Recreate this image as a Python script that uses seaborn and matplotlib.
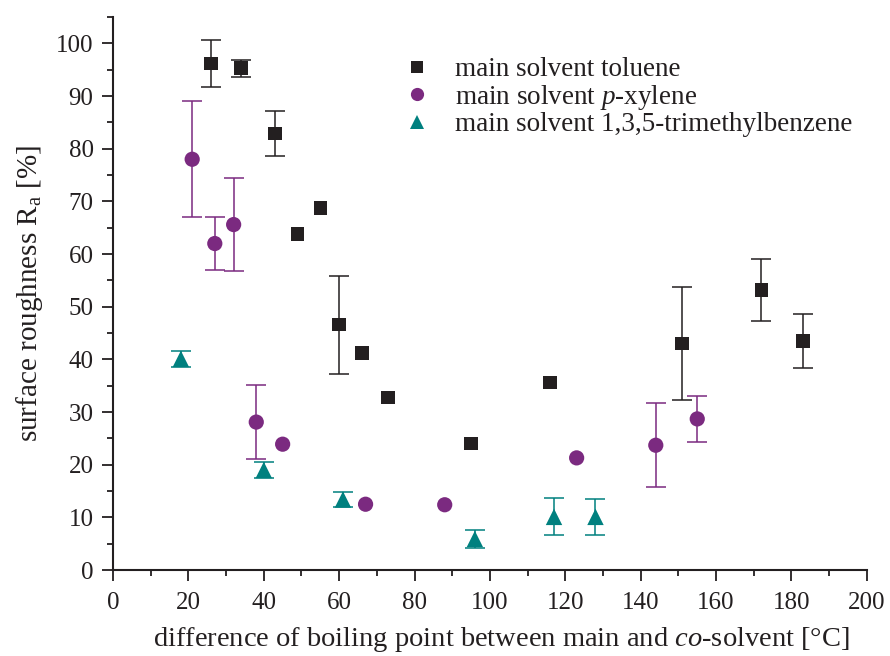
import numpy as np
import pandas as pd
import matplotlib
matplotlib.use("Agg")
import matplotlib.pyplot as plt
from matplotlib.lines import Line2D
from matplotlib.ticker import MultipleLocator
import seaborn as sns

# Surface roughness vs. boiling point difference, per main solvent
tol_x = [26, 34, 43, 49, 55, 60, 66, 73, 95, 116, 151, 172, 183]
tol_y = [96.2, 95.3, 82.9, 63.8, 68.7, 46.6, 41.2, 32.8, 24.0, 35.6, 43.0, 53.2, 43.5]
tol_err = [4.4, 1.6, 4.2, 0, 0, 9.3, 0, 0, 0, 0, 10.8, 5.9, 5.1]

xyl_x = [21, 27, 32, 38, 45, 67, 88, 123, 144, 155]
xyl_y = [78.0, 62.0, 65.6, 28.1, 23.9, 12.5, 12.4, 21.3, 23.7, 28.7]
xyl_err = [11.0, 5.0, 8.9, 7.1, 0, 0, 0, 0, 8.0, 4.4]

tmb_x = [18, 40, 61, 96, 117, 128]
tmb_y = [40.1, 19.0, 13.4, 5.9, 10.1, 10.1]
tmb_err = [1.5, 1.5, 1.5, 1.7, 3.5, 3.4]

labels = ["main solvent toluene",
          "main solvent $\\mathit{p}$-xylene",
          "main solvent 1,3,5-trimethylbenzene"]
colors = ["#231f20", "#7b2a80", "#00807f"]
markers = ["s", "o", "^"]
sizes = [95, 120, 140]

series = [(tol_x, tol_y, tol_err), (xyl_x, xyl_y, xyl_err), (tmb_x, tmb_y, tmb_err)]
frames = []
for lab, (xs, ys, es) in zip(labels, series):
    frames.append(pd.DataFrame({"x": xs, "y": ys, "err": es, "solvent": lab}))
df = pd.concat(frames, ignore_index=True)

sns.set_theme(style="ticks")
plt.rcParams["font.family"] = ["Liberation Serif", "DejaVu Serif"]
plt.rcParams["mathtext.fontset"] = "custom"
plt.rcParams["mathtext.rm"] = "Liberation Serif"
plt.rcParams["mathtext.it"] = "Liberation Serif:italic"

fig = plt.figure(figsize=(8.9, 6.56), dpi=100)
ax = fig.add_axes([0.127, 0.131, 0.847, 0.843])

for lab, col, mk, sz in zip(labels, colors, markers, sizes):
    sub = df[df["solvent"] == lab]
    eb = sub[sub["err"] > 0]
    ax.errorbar(eb["x"], eb["y"], yerr=eb["err"], fmt="none", ecolor=col,
                elinewidth=1.1, capsize=7, capthick=1.1, zorder=2)
    sns.scatterplot(data=sub, x="x", y="y", marker=mk, s=sz, color=col,
                    edgecolor="none", linewidth=0, ax=ax, zorder=3, legend=False)

ax.set_xlim(0, 200)
ax.set_ylim(0, 105)
ax.xaxis.set_major_locator(MultipleLocator(20))
ax.xaxis.set_minor_locator(MultipleLocator(10))
ax.yaxis.set_major_locator(MultipleLocator(10))
ax.yaxis.set_minor_locator(MultipleLocator(5))
ax.set_yticks(np.arange(0, 101, 10))
ax.tick_params(axis="x", which="major", pad=8)
ax.tick_params(axis="y", which="major", pad=6)
ax.tick_params(axis="both", which="major", direction="out", length=8, width=1.3,
               labelsize=18, color="#231f20", labelcolor="#231f20")
ax.tick_params(axis="both", which="minor", direction="out", length=4.5, width=1.3,
               color="#231f20")
for side in ["top", "right"]:
    ax.spines[side].set_visible(False)
for side in ["left", "bottom"]:
    ax.spines[side].set_linewidth(1.5)
    ax.spines[side].set_color("#231f20")

ax.set_xlabel("difference of boiling point between main and $\\mathit{co}$-solvent [°C]",
              fontsize=20.5, color="#231f20")
ax.xaxis.set_label_coords(0.515, -0.099)
ax.set_ylabel("surface roughness R$_\\mathrm{a}$ [%]", fontsize=21, color="#231f20",
              labelpad=8)

handles = [Line2D([], [], linestyle="none", marker=mk, color=col, markersize=ms,
                  markeredgewidth=0)
           for col, mk, ms in zip(colors, markers, [8, 9.5, 10])]
ax.legend(handles, labels, loc="upper left", bbox_to_anchor=(0.367, 0.952),
          frameon=False, fontsize=19.5, handletextpad=0.9, labelspacing=0.02,
          handlelength=1.0, labelcolor="#231f20", borderpad=0)

fig.savefig("out.png", dpi=100)
